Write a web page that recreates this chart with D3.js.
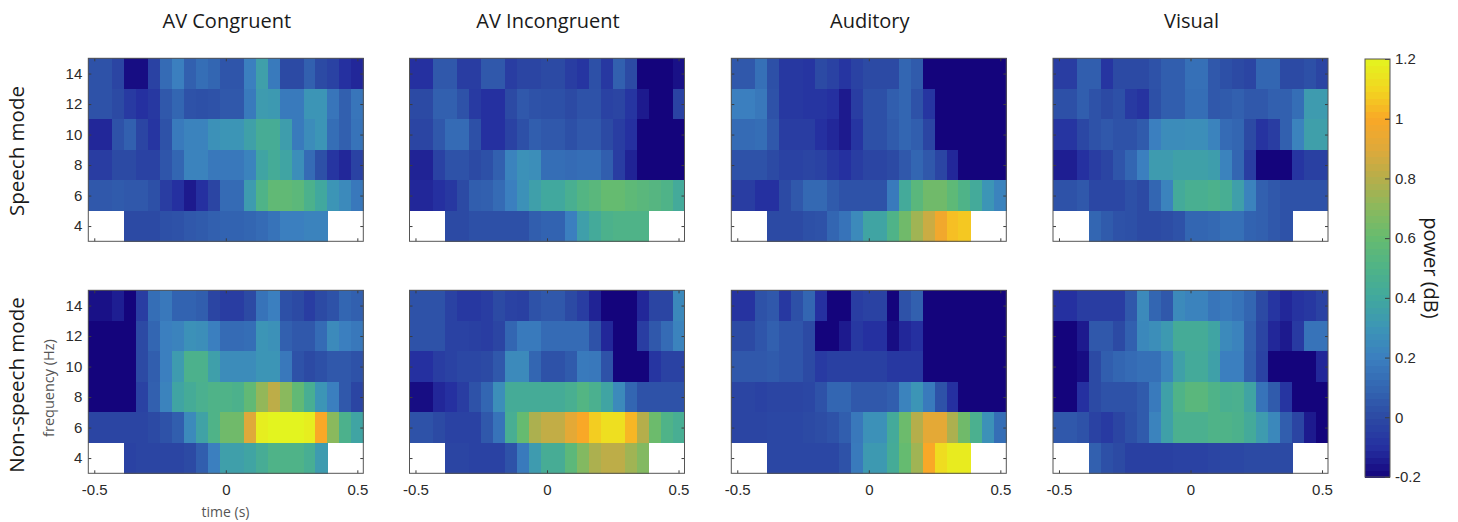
<!DOCTYPE html>
<html>
<head>
<meta charset="utf-8">
<script src="https://cdnjs.cloudflare.com/ajax/libs/d3/7.8.5/d3.min.js"></script>
<style>
  html, body { margin: 0; padding: 0; background: #fff; }
  svg { display: block; }
  .tick line { stroke: #3c3c3c; }
  .tick text { font-family: "Liberation Sans", sans-serif; fill: #2a2a2a; }
  .cells { filter: blur(0.6px); }
</style>
</head>
<body>
<div id="chart"></div>
<script>
const N = null;

const times = [-0.5, -0.455, -0.409, -0.364, -0.318, -0.273, -0.227, -0.182, -0.136, -0.091, -0.045, 0,
    0.045, 0.091, 0.136, 0.182, 0.227, 0.273, 0.318, 0.364, 0.409, 0.455, 0.5];
const freqs = [14, 12, 10, 8, 6, 4];
const conditions = ['AV Congruent', 'AV Incongruent', 'Auditory', 'Visual'];
const modes = ['Speech mode', 'Non-speech mode'];
const timeTicks = [-0.5, 0, 0.5];
const freqTicks = [4, 6, 8, 10, 12, 14];
const powerTicks = [-0.2, 0, 0.2, 0.4, 0.6, 0.8, 1, 1.2];

// every row runs from 14 Hz down to 4 Hz
const speechCongruent = [
    [.03, .03, -.02, -.18, -.18, -.03, .12, .2, .08, .13, .1, .04, .04, .2, .35, .18, 0, 0, .08, 0, -.03, -.1, -.12],
    [.03, .03, 0, -.06, -.1, -.07, .05, .1, .03, .02, .03, .05, .05, .18, .33, .32, .18, .18, .3, .3, .16, .08, .16],
    [-.12, -.12, .03, .08, -.02, -.08, .03, .18, .22, .22, .28, .3, .3, .36, .44, .44, .34, .18, .26, .3, .13, .08, .15],
    [-.05, -.05, 0, 0, -.03, -.03, .04, .1, .22, .22, .17, .17, .17, .22, .38, .43, .38, .27, .12, .02, -.08, -.12, -.03],
    [.05, .05, .06, .05, .05, .02, -.05, -.1, -.15, -.1, -.02, .12, .12, .33, .5, .58, .58, .56, .48, .4, .3, .25, .17],
    [N, N, N, 0, 0, 0, .02, .03, .05, .06, .08, .09, .09, .1, .12, .15, .2, .2, .22, .22, N, N, N]
];
const speechIncongruent = [
    [-.1, -.1, .05, .05, -.05, -.05, .05, .05, -.05, -.02, -.02, 0, 0, -.05, -.08, .02, -.07, .08, 0, -.2, -.2, -.2, -.17],
    [0, 0, .08, .08, .03, -.06, -.1, -.1, 0, .05, .03, .02, .02, 0, .03, .03, -.03, -.02, -.08, -.15, -.2, -.2, -.03],
    [-.02, -.02, .05, .12, .12, .02, -.1, -.1, -.03, .02, .07, .05, .05, .02, .05, .05, 0, -.05, -.1, -.2, -.2, -.2, -.2],
    [-.13, -.13, -.03, .03, .03, 0, .02, .08, .22, .28, .27, .13, .13, .12, .13, .13, .07, -.05, -.13, -.2, -.2, -.2, -.2],
    [-.12, -.12, -.1, -.07, 0, .07, .08, .12, .2, .28, .35, .4, .4, .46, .52, .55, .6, .6, .57, .55, .53, .5, .42],
    [N, N, N, 0, 0, .02, .02, .02, .02, .02, .07, .09, .09, .2, .35, .42, .48, .5, .5, .5, N, N, N]
];
const speechAuditory = [
    [.05, .05, .14, .02, -.07, -.07, -.08, 0, -.03, -.08, -.03, 0, 0, 0, .1, .06, -.2, -.2, -.2, -.2, -.2, -.2, -.2],
    [.2, .2, .17, .03, -.07, -.07, -.08, -.08, -.1, -.15, -.05, .02, .02, .07, .1, .03, -.08, -.2, -.2, -.2, -.2, -.2, -.2],
    [.12, .12, .13, .05, -.05, -.05, -.05, -.1, -.12, -.15, -.08, .02, .02, .06, .1, .07, -.02, -.2, -.2, -.2, -.2, -.2, -.2],
    [.03, .03, .03, 0, -.03, -.03, -.02, -.03, -.07, -.1, -.05, -.02, -.02, 0, .05, .1, .05, -.02, -.12, -.2, -.2, -.2, -.2],
    [-.05, -.05, -.1, -.1, 0, .05, .11, .11, .06, .03, .03, .03, .03, .18, .42, .55, .63, .63, .57, .5, .42, .3, .22],
    [N, N, N, 0, 0, 0, .02, .03, .1, .15, .25, .38, .38, .5, .63, .75, .85, .97, 1.05, 1.07, N, N, N]
];
const speechVisual = [
    [-.05, -.05, .07, .07, -.08, 0, 0, 0, .03, .07, .07, .14, .14, .05, .02, 0, -.02, .1, .1, 0, 0, .02, -.02],
    [.02, .02, .07, .03, 0, .02, -.06, -.09, .02, .07, .07, .13, .13, .05, .06, .08, .05, .05, .08, .08, .13, .33, .33],
    [-.08, -.08, -.01, .03, .05, .03, .03, .06, .2, .26, .26, .27, .27, .22, .12, .1, 0, -.09, -.05, .08, .22, .35, .35],
    [-.14, -.14, -.1, -.05, -.02, .04, .1, .2, .33, .33, .36, .36, .36, .34, .22, .1, -.05, -.2, -.2, -.2, -.08, -.04, -.04],
    [.03, .03, .05, -.01, -.01, -.01, .02, 0, .1, .22, .42, .46, .46, .48, .45, .35, .22, .08, .05, .03, .03, .03, .03],
    [N, N, N, .1, .06, .03, .02, 0, 0, .01, .03, .1, .1, .11, .14, .14, .09, .08, .05, .03, N, N, N]
];
const nonSpeechCongruent = [
    [-.17, -.17, -.14, -.2, -.05, .13, .17, .09, .09, .07, -.02, -.05, -.05, 0, .15, .2, .02, 0, -.05, 0, .03, .1, .08],
    [-.2, -.2, -.2, -.2, 0, .1, .2, .22, .28, .27, .2, .12, .12, .13, .3, .28, .08, .05, .05, .12, .25, .2, .17],
    [-.2, -.2, -.2, -.2, 0, .07, .2, .33, .48, .48, .35, .26, .26, .26, .3, .3, .17, .03, 0, .02, .05, .05, .03],
    [-.2, -.2, -.2, -.2, -.03, .08, .22, .38, .43, .47, .5, .5, .48, .58, .72, .82, .7, .58, .45, .3, .2, .05, -.02],
    [-.02, -.02, -.02, -.02, -.02, 0, .03, .07, .25, .37, .5, .63, .63, .9, 1.18, 1.2, 1.2, 1.2, 1.18, 1, .7, .48, .38],
    [N, N, N, -.03, -.02, -.02, -.02, -.02, 0, .07, .2, .35, .35, .38, .44, .5, .5, .5, .45, .33, N, N, N]
];
const nonSpeechIncongruent = [
    [.03, .03, .03, -.03, -.07, -.07, -.05, 0, -.03, -.04, .03, .05, .05, 0, -.05, -.13, -.2, -.2, -.2, -.12, -.02, -.02, .24],
    [.03, .03, .03, -.03, -.03, -.04, -.05, -.02, .1, .18, .18, .12, .12, .12, .12, .03, -.12, -.2, -.2, -.05, .05, .12, .22],
    [-.1, -.1, -.05, -.03, -.01, -.01, 0, .05, .25, .25, .1, .03, .03, .06, .18, .17, .03, -.2, -.2, -.2, -.08, -.03, -.03],
    [-.18, -.18, -.12, -.1, -.05, .03, .1, .27, .43, .43, .43, .43, .43, .46, .52, .47, .38, .25, .1, .03, .03, .03, .03],
    [.03, .03, 0, -.03, -.03, -.03, .05, .15, .45, .6, .78, .83, .83, .92, 1, 1.08, 1.13, 1.13, 1.03, .8, .62, .5, .45],
    [N, N, N, -.02, -.02, -.03, -.03, -.03, .03, .18, .33, .44, .44, .56, .68, .78, .82, .82, .75, .68, N, N, N]
];
const nonSpeechAuditory = [
    [-.09, -.09, .03, .05, -.07, .02, .1, -.1, -.2, -.2, -.05, -.03, -.03, -.2, .03, .08, -.2, -.2, -.2, -.2, -.2, -.2, -.2],
    [0, 0, .04, .08, .04, .04, 0, -.2, -.2, -.15, -.07, -.1, -.1, -.18, -.12, -.1, -.2, -.2, -.2, -.2, -.2, -.2, -.2],
    [.05, .05, .05, .06, .04, .04, 0, -.06, -.04, -.04, -.04, -.04, -.04, -.07, -.07, -.07, -.2, -.2, -.2, -.2, -.2, -.2, -.2],
    [-.02, -.02, -.03, -.02, -.02, -.02, -.01, .03, .1, .1, .05, .05, .05, .07, .22, .3, .18, .03, -.1, -.2, -.2, -.2, -.2],
    [-.02, -.02, -.02, -.01, -.01, -.01, 0, .01, .03, .07, .17, .28, .28, .42, .62, .8, .92, .92, .78, .63, .47, .28, .13],
    [N, N, N, -.01, -.01, -.01, -.01, -.01, -.01, .03, .18, .32, .32, .43, .6, .75, 1, 1.12, 1.17, 1.17, N, N, N]
];
const nonSpeechVisual = [
    [-.1, -.1, -.05, -.05, -.05, -.05, .05, .25, .1, .05, .25, .22, .22, .16, .18, .15, .1, 0, -.08, -.12, -.09, -.07, -.03],
    [-.2, -.2, -.15, .05, .05, 0, .08, .24, .27, .32, .43, .43, .43, .38, .25, .22, .08, -.02, -.12, -.15, -.06, .15, .15],
    [-.2, -.2, -.18, 0, .07, .1, .12, .14, .14, .22, .36, .42, .42, .36, .2, .2, .07, -.03, -.2, -.2, -.2, -.2, -.12],
    [-.2, -.2, -.1, 0, .03, .03, .03, .06, .18, .36, .5, .55, .55, .5, .46, .47, .38, .15, .06, -.08, -.2, -.2, -.2],
    [.05, .05, .03, -.03, -.06, -.02, .02, .06, .22, .36, .47, .47, .47, .5, .5, .48, .42, .33, .24, .07, -.02, -.15, -.2],
    [N, N, N, .08, .02, 0, -.04, -.04, -.04, -.04, -.03, -.03, -.03, -.02, -.01, -.01, 0, 0, 0, 0, N, N, N]
];

const panels = [
    [speechCongruent, speechIncongruent, speechAuditory, speechVisual],
    [nonSpeechCongruent, nonSpeechIncongruent, nonSpeechAuditory, nonSpeechVisual]
];

const width = 1458, height = 522;
const panelW = 275, panelH = 183;
const panelLeft = [88.3, 409.5, 731.3, 1053];
const panelTop = [58.3, 290.3];

// parula as it appears in the colorbar
const color = d3.scaleLinear()
    .domain([-.2, -.1, 0, .1, .2, .3, .4, .5, .6, .7, .8, .9, 1, 1.1, 1.2])
    .range(['#14047c', '#2530a0', '#2c4aa4', '#3366b2', '#3b7fbf', '#3c95b6', '#41a89e', '#4fb388',
        '#65bb70', '#8ab95d', '#b5ae4b', '#dfa93a', '#f9a827', '#f2d620', '#e3f41f'])
    .clamp(true);

const svg = d3.select('#chart')
    .append('svg')
    .attr('width', width)
    .attr('height', height)
    .style('font-family', '"Open Sans", sans-serif');

const xBand = d3.scaleBand().domain(times).range([0, panelW]);
const xScale = d3.scaleLinear().domain([-0.5227, 0.5227]).range([0, panelW]);
const yBand = d3.scaleBand().domain(freqs).range([0, panelH]);
const yScale = d3.scaleLinear().domain([3, 15]).range([panelH, 0]);

function drawPanel(g, rows, showX, showY) {
    const cells = g.append('g').classed('cells', true);
    rows.forEach((row, r) => {
        cells.selectAll('.cell' + r)
            .data(row.map((v, i) => ({ v: v, t: times[i] })).filter(d => d.v !== null))
            .enter()
            .append('rect')
            .attr('x', d => xBand(d.t))
            .attr('y', yBand(freqs[r]))
            .attr('width', xBand.bandwidth() + 0.4)
            .attr('height', yBand.bandwidth() + 0.4)
            .attr('shape-rendering', 'crispEdges')
            .style('fill', d => color(d.v));
    });

    g.append('g')
        .attr('transform', `translate(0,${panelH})`)
        .call(d3.axisBottom(xScale).tickValues(timeTicks).tickSize(-3).tickSizeOuter(0).tickPadding(11)
            .tickFormat(d => showX ? String(d) : ''));
    g.append('g')
        .call(d3.axisTop(xScale).tickValues(timeTicks).tickSize(-3).tickSizeOuter(0).tickFormat(''));
    g.append('g')
        .call(d3.axisLeft(yScale).tickValues(freqTicks).tickSize(-3).tickSizeOuter(0).tickPadding(6)
            .tickFormat(d => showY ? String(d) : ''));
    g.append('g')
        .attr('transform', `translate(${panelW},0)`)
        .call(d3.axisRight(yScale).tickValues(freqTicks).tickSize(-3).tickSizeOuter(0).tickFormat(''));
    g.selectAll('.domain').remove();
    g.selectAll('.tick text').style('font-size', '15px');

    g.append('rect')
        .attr('width', panelW)
        .attr('height', panelH)
        .attr('fill', 'none')
        .attr('stroke', '#555')
        .attr('stroke-width', 1);
}

panels.forEach((row, m) => {
    row.forEach((rows, c) => {
        const g = svg.append('g')
            .attr('transform', `translate(${panelLeft[c]},${panelTop[m]})`);
        drawPanel(g, rows, m === 1, c === 0);
    });
});

svg.selectAll('.title')
    .data(conditions)
    .enter()
    .append('text')
    .attr('x', (d, i) => panelLeft[i] + panelW / 2 + 1)
    .attr('y', 28)
    .attr('text-anchor', 'middle')
    .style('font-size', '20px')
    .style('fill', '#1a1a1a')
    .text(d => d);

svg.selectAll('.mode')
    .data(modes)
    .enter()
    .append('text')
    .attr('transform', (d, i) => `translate(24,${i ? 385 : 151}) rotate(-90)`)
    .attr('text-anchor', 'middle')
    .style('font-size', '20.5px')
    .style('fill', '#1a1a1a')
    .text(d => d);

svg.append('text')
    .attr('transform', `translate(54,388) rotate(-90)`)
    .attr('text-anchor', 'middle')
    .style('font-size', '14.5px')
    .style('fill', '#555')
    .text('frequency (Hz)');

svg.append('text')
    .attr('x', 225.5)
    .attr('y', 517)
    .attr('text-anchor', 'middle')
    .style('font-size', '14px')
    .style('fill', '#555')
    .text('time (s)');

// colorbar
const barX = 1365, barY = 59, barW = 25, barH = 418;
const barScale = d3.scaleLinear().domain([-0.2, 1.2]).range([barH, 0]);
const bar = svg.append('g').attr('transform', `translate(${barX},${barY})`);
const levels = d3.range(64);
const levelValue = d3.scaleLinear().domain([0, 64]).range([-0.2, 1.2]);

bar.selectAll('.level')
    .data(levels)
    .enter()
    .append('rect')
    .attr('x', 0)
    .attr('y', d => barScale(levelValue(d + 1)))
    .attr('width', barW)
    .attr('height', barH / 64 + 0.5)
    .attr('shape-rendering', 'crispEdges')
    .style('fill', d => color(levelValue(d + 0.5)));

bar.append('g')
    .attr('transform', `translate(${barW},0)`)
    .call(d3.axisRight(barScale).tickValues(powerTicks).tickSize(-5).tickSizeOuter(0).tickPadding(5)
        .tickFormat(d => String(d)))
    .call(a => a.select('.domain').remove())
    .call(a => a.selectAll('.tick text').style('font-size', '15px'));

bar.append('rect')
    .attr('width', barW)
    .attr('height', barH)
    .attr('fill', 'none')
    .attr('stroke', '#555');

svg.append('text')
    .attr('transform', `translate(1424,268) rotate(90)`)
    .attr('text-anchor', 'middle')
    .style('font-size', '20px')
    .style('fill', '#1a1a1a')
    .text('power (dB)');
</script>
</body>
</html>
